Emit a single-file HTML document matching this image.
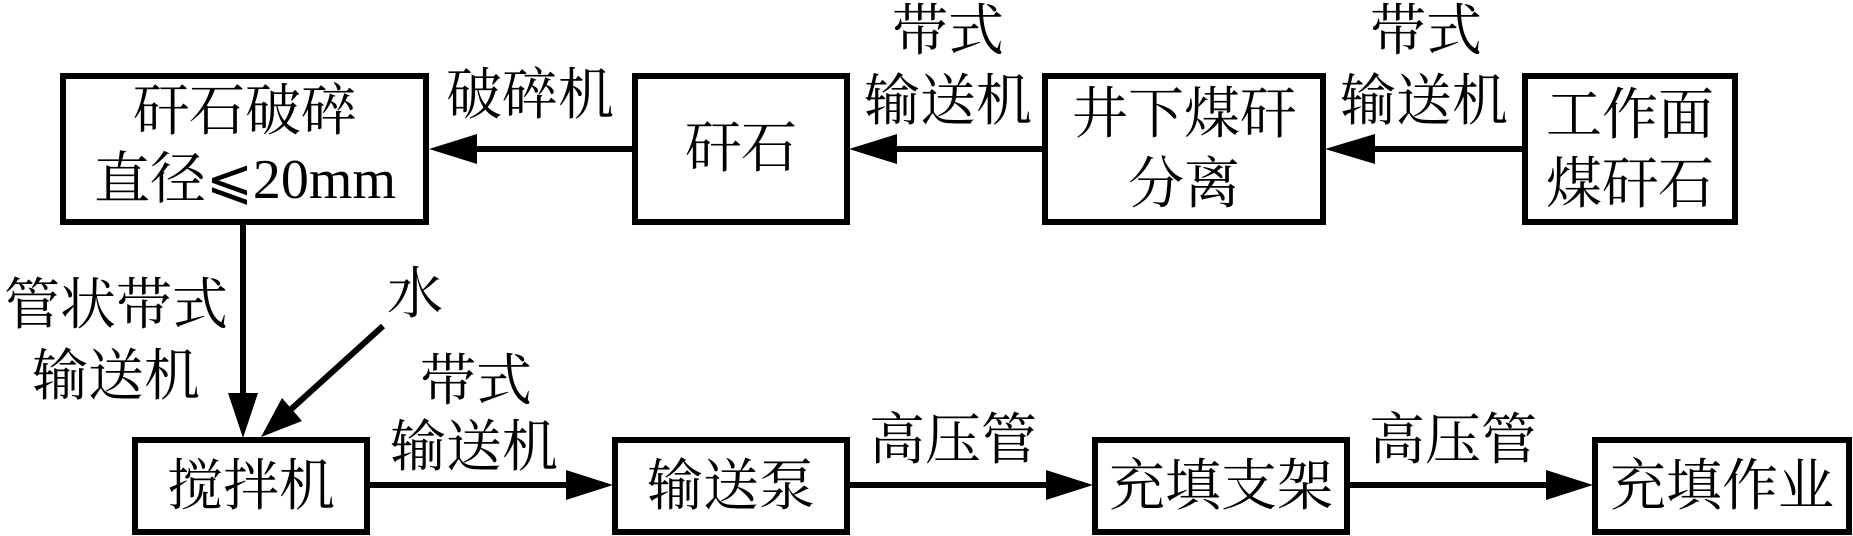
<!DOCTYPE html>
<html><head><meta charset="utf-8"><style>
html,body{margin:0;padding:0;background:#fff;}
svg{display:block;}
text{font-family:"Liberation Serif","Noto Serif CJK SC",serif;font-size:56px;fill:#000;text-anchor:middle;dominant-baseline:central;}
</style></head><body>
<svg width="1853" height="536" viewBox="0 0 1853 536" xmlns="http://www.w3.org/2000/svg">
<g fill="none" stroke="#000" stroke-width="6">
<rect x="63" y="76" width="363" height="146"/>
<rect x="635" y="76" width="212" height="146"/>
<rect x="1045" y="76" width="278" height="146"/>
<rect x="1525" y="76" width="210" height="146"/>
<rect x="135" y="440" width="232" height="92"/>
<rect x="615" y="440" width="232" height="92"/>
<rect x="1095" y="440" width="252" height="92"/>
<rect x="1595" y="440" width="254" height="92"/>
</g>
<g stroke="#000" stroke-width="6">
<line x1="635" y1="149" x2="470" y2="149"/>
<line x1="1045" y1="149" x2="890" y2="149"/>
<line x1="1525" y1="149" x2="1370" y2="149"/>
<line x1="243" y1="222" x2="243" y2="400"/>
<line x1="383" y1="326" x2="288" y2="412"/>
<line x1="367" y1="485" x2="570" y2="485"/>
<line x1="847" y1="485" x2="1050" y2="485"/>
<line x1="1347" y1="485" x2="1550" y2="485"/>
</g>
<g fill="#000">
<polygon points="429,149 477,134 477,164"/>
<polygon points="849,149 897,134 897,164"/>
<polygon points="1325,149 1375,134 1375,164"/>
<polygon points="243,438 228,393 258,393"/>
<polygon points="261,437 282,398 302,421"/>
<polygon points="613,485 566,470 566,500"/>
<polygon points="1093,485 1046,470 1046,500"/>
<polygon points="1593,485 1546,470 1546,500"/>
</g>
<text x="245" y="112">矸石破碎</text>
<text x="245" y="180">直径⩽20mm</text>
<text x="530" y="96">破碎机</text>
<text x="741" y="149">矸石</text>
<text x="948" y="32">带式</text>
<text x="948" y="102">输送机</text>
<text x="1184" y="115">井下煤矸</text>
<text x="1184" y="185">分离</text>
<text x="1426" y="32">带式</text>
<text x="1424" y="102">输送机</text>
<text x="1630" y="116">工作面</text>
<text x="1630" y="185">煤矸石</text>
<text x="116" y="306">管状带式</text>
<text x="116" y="377">输送机</text>
<text x="415" y="295">水</text>
<text x="476" y="382">带式</text>
<text x="474" y="448">输送机</text>
<text x="953" y="441">高压管</text>
<text x="1453" y="441">高压管</text>
<text x="251" y="487">搅拌机</text>
<text x="731" y="487">输送泵</text>
<text x="1221" y="487">充填支架</text>
<text x="1722" y="487">充填作业</text>
</svg>
</body></html>
